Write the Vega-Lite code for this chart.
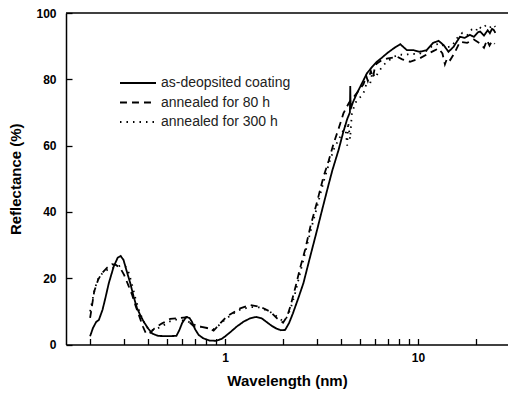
{
  "$schema": "https://vega.github.io/schema/vega-lite/v6.json",
  "width": 442,
  "height": 331.5,
  "autosize": "none",
  "padding": {"left": 66, "top": 13, "right": 0, "bottom": 51.5},
  "background": "white",
  "config": {
    "view": {"stroke": null},
    "font": "Liberation Sans",
    "axis": {
      "domainColor": "black",
      "domainWidth": 1.5,
      "ticks": true,
      "tickColor": "black",
      "tickWidth": 1.3,
      "grid": false,
      "labelFont": "Liberation Sans",
      "labelFontSize": 12,
      "labelFontWeight": "bold",
      "labelColor": "black",
      "titleFont": "Liberation Sans",
      "titleFontSize": 15,
      "titleFontWeight": "bold",
      "titleColor": "black",
      "labelOverlap": false,
      "labelFlush": false
    }
  },
  "datasets": {
    "curves": [
      {"w": 0.2, "r": 2.5, "s": "as-deopsited coating"},
      {"w": 0.207, "r": 5, "s": "as-deopsited coating"},
      {"w": 0.215, "r": 6.8, "s": "as-deopsited coating"},
      {"w": 0.222, "r": 7.4, "s": "as-deopsited coating"},
      {"w": 0.232, "r": 10.5, "s": "as-deopsited coating"},
      {"w": 0.24, "r": 14, "s": "as-deopsited coating"},
      {"w": 0.25, "r": 18.5, "s": "as-deopsited coating"},
      {"w": 0.265, "r": 23.5, "s": "as-deopsited coating"},
      {"w": 0.278, "r": 26.2, "s": "as-deopsited coating"},
      {"w": 0.288, "r": 26.7, "s": "as-deopsited coating"},
      {"w": 0.298, "r": 25.5, "s": "as-deopsited coating"},
      {"w": 0.31, "r": 22, "s": "as-deopsited coating"},
      {"w": 0.323, "r": 18.5, "s": "as-deopsited coating"},
      {"w": 0.336, "r": 14.5, "s": "as-deopsited coating"},
      {"w": 0.35, "r": 11, "s": "as-deopsited coating"},
      {"w": 0.365, "r": 8.7, "s": "as-deopsited coating"},
      {"w": 0.379, "r": 6.9, "s": "as-deopsited coating"},
      {"w": 0.4, "r": 4.8, "s": "as-deopsited coating"},
      {"w": 0.42, "r": 3.3, "s": "as-deopsited coating"},
      {"w": 0.45, "r": 2.6, "s": "as-deopsited coating"},
      {"w": 0.5, "r": 2.5, "s": "as-deopsited coating"},
      {"w": 0.56, "r": 2.6, "s": "as-deopsited coating"},
      {"w": 0.58, "r": 4.3, "s": "as-deopsited coating"},
      {"w": 0.6, "r": 6.5, "s": "as-deopsited coating"},
      {"w": 0.63, "r": 8.3, "s": "as-deopsited coating"},
      {"w": 0.655, "r": 8.0, "s": "as-deopsited coating"},
      {"w": 0.675, "r": 6.8, "s": "as-deopsited coating"},
      {"w": 0.7, "r": 4.6, "s": "as-deopsited coating"},
      {"w": 0.73, "r": 2.9, "s": "as-deopsited coating"},
      {"w": 0.77, "r": 1.9, "s": "as-deopsited coating"},
      {"w": 0.83, "r": 1.2, "s": "as-deopsited coating"},
      {"w": 0.9, "r": 1.1, "s": "as-deopsited coating"},
      {"w": 0.96, "r": 1.7, "s": "as-deopsited coating"},
      {"w": 1.0, "r": 2.4, "s": "as-deopsited coating"},
      {"w": 1.07, "r": 3.8, "s": "as-deopsited coating"},
      {"w": 1.15, "r": 5.4, "s": "as-deopsited coating"},
      {"w": 1.25, "r": 6.9, "s": "as-deopsited coating"},
      {"w": 1.35, "r": 7.9, "s": "as-deopsited coating"},
      {"w": 1.45, "r": 8.3, "s": "as-deopsited coating"},
      {"w": 1.55, "r": 7.9, "s": "as-deopsited coating"},
      {"w": 1.65, "r": 6.7, "s": "as-deopsited coating"},
      {"w": 1.75, "r": 5.6, "s": "as-deopsited coating"},
      {"w": 1.85, "r": 4.8, "s": "as-deopsited coating"},
      {"w": 1.95, "r": 4.3, "s": "as-deopsited coating"},
      {"w": 2.05, "r": 4.4, "s": "as-deopsited coating"},
      {"w": 2.15, "r": 6.5, "s": "as-deopsited coating"},
      {"w": 2.25, "r": 9.4, "s": "as-deopsited coating"},
      {"w": 2.4, "r": 14, "s": "as-deopsited coating"},
      {"w": 2.55, "r": 18.5, "s": "as-deopsited coating"},
      {"w": 2.75, "r": 26, "s": "as-deopsited coating"},
      {"w": 3.0, "r": 34.5, "s": "as-deopsited coating"},
      {"w": 3.2, "r": 41, "s": "as-deopsited coating"},
      {"w": 3.4, "r": 47, "s": "as-deopsited coating"},
      {"w": 3.6, "r": 52.5, "s": "as-deopsited coating"},
      {"w": 3.88, "r": 58.7, "s": "as-deopsited coating"},
      {"w": 4.1, "r": 64, "s": "as-deopsited coating"},
      {"w": 4.3, "r": 68, "s": "as-deopsited coating"},
      {"w": 4.44, "r": 70, "s": "as-deopsited coating"},
      {"w": 4.46, "r": 78, "s": "as-deopsited coating"},
      {"w": 4.48, "r": 71, "s": "as-deopsited coating"},
      {"w": 4.6, "r": 73, "s": "as-deopsited coating"},
      {"w": 4.83, "r": 75.8, "s": "as-deopsited coating"},
      {"w": 5.1, "r": 78.5, "s": "as-deopsited coating"},
      {"w": 5.44, "r": 81.8, "s": "as-deopsited coating"},
      {"w": 5.8, "r": 83.8, "s": "as-deopsited coating"},
      {"w": 6.13, "r": 85.3, "s": "as-deopsited coating"},
      {"w": 6.5, "r": 86.5, "s": "as-deopsited coating"},
      {"w": 6.9, "r": 87.8, "s": "as-deopsited coating"},
      {"w": 7.47, "r": 89.3, "s": "as-deopsited coating"},
      {"w": 8.1, "r": 90.6, "s": "as-deopsited coating"},
      {"w": 8.5, "r": 89.5, "s": "as-deopsited coating"},
      {"w": 8.77, "r": 88.8, "s": "as-deopsited coating"},
      {"w": 9.5, "r": 88.8, "s": "as-deopsited coating"},
      {"w": 10.2, "r": 88.3, "s": "as-deopsited coating"},
      {"w": 11.1, "r": 88.8, "s": "as-deopsited coating"},
      {"w": 12.0, "r": 91, "s": "as-deopsited coating"},
      {"w": 12.8, "r": 91.6, "s": "as-deopsited coating"},
      {"w": 13.6, "r": 90.3, "s": "as-deopsited coating"},
      {"w": 14.4, "r": 88.3, "s": "as-deopsited coating"},
      {"w": 15.3, "r": 89.8, "s": "as-deopsited coating"},
      {"w": 16.5, "r": 92.8, "s": "as-deopsited coating"},
      {"w": 17.5, "r": 92.5, "s": "as-deopsited coating"},
      {"w": 18.6, "r": 93.4, "s": "as-deopsited coating"},
      {"w": 19.5, "r": 92.8, "s": "as-deopsited coating"},
      {"w": 20.5, "r": 94.2, "s": "as-deopsited coating"},
      {"w": 21.0, "r": 94.4, "s": "as-deopsited coating"},
      {"w": 22.0, "r": 93.2, "s": "as-deopsited coating"},
      {"w": 23.0, "r": 94.8, "s": "as-deopsited coating"},
      {"w": 23.6, "r": 93.9, "s": "as-deopsited coating"},
      {"w": 24.2, "r": 95.2, "s": "as-deopsited coating"},
      {"w": 24.7, "r": 94.9, "s": "as-deopsited coating"},
      {"w": 25.2, "r": 94.0, "s": "as-deopsited coating"},

      {"w": 0.2, "r": 8, "s": "annealed for 80 h"},
      {"w": 0.205, "r": 12, "s": "annealed for 80 h"},
      {"w": 0.21, "r": 16, "s": "annealed for 80 h"},
      {"w": 0.22, "r": 19.5, "s": "annealed for 80 h"},
      {"w": 0.23, "r": 21.5, "s": "annealed for 80 h"},
      {"w": 0.245, "r": 23.2, "s": "annealed for 80 h"},
      {"w": 0.26, "r": 24.2, "s": "annealed for 80 h"},
      {"w": 0.272, "r": 24, "s": "annealed for 80 h"},
      {"w": 0.287, "r": 23, "s": "annealed for 80 h"},
      {"w": 0.3, "r": 21, "s": "annealed for 80 h"},
      {"w": 0.315, "r": 18, "s": "annealed for 80 h"},
      {"w": 0.33, "r": 15, "s": "annealed for 80 h"},
      {"w": 0.345, "r": 11.5, "s": "annealed for 80 h"},
      {"w": 0.36, "r": 8.5, "s": "annealed for 80 h"},
      {"w": 0.375, "r": 5.5, "s": "annealed for 80 h"},
      {"w": 0.39, "r": 3.3, "s": "annealed for 80 h"},
      {"w": 0.405, "r": 3.2, "s": "annealed for 80 h"},
      {"w": 0.43, "r": 4.8, "s": "annealed for 80 h"},
      {"w": 0.47, "r": 6.3, "s": "annealed for 80 h"},
      {"w": 0.52, "r": 7.7, "s": "annealed for 80 h"},
      {"w": 0.59, "r": 8, "s": "annealed for 80 h"},
      {"w": 0.636, "r": 8.2, "s": "annealed for 80 h"},
      {"w": 0.66, "r": 6.5, "s": "annealed for 80 h"},
      {"w": 0.69, "r": 5.5, "s": "annealed for 80 h"},
      {"w": 0.745, "r": 5.4, "s": "annealed for 80 h"},
      {"w": 0.82, "r": 4.9, "s": "annealed for 80 h"},
      {"w": 0.873, "r": 4.2, "s": "annealed for 80 h"},
      {"w": 0.9, "r": 5.0, "s": "annealed for 80 h"},
      {"w": 0.95, "r": 6.5, "s": "annealed for 80 h"},
      {"w": 1.02, "r": 8.4, "s": "annealed for 80 h"},
      {"w": 1.1, "r": 9.6, "s": "annealed for 80 h"},
      {"w": 1.2, "r": 10.9, "s": "annealed for 80 h"},
      {"w": 1.35, "r": 11.9, "s": "annealed for 80 h"},
      {"w": 1.52, "r": 11.4, "s": "annealed for 80 h"},
      {"w": 1.72, "r": 9.9, "s": "annealed for 80 h"},
      {"w": 1.86, "r": 7.9, "s": "annealed for 80 h"},
      {"w": 2.0, "r": 6.6, "s": "annealed for 80 h"},
      {"w": 2.1, "r": 8.5, "s": "annealed for 80 h"},
      {"w": 2.18, "r": 11.4, "s": "annealed for 80 h"},
      {"w": 2.3, "r": 16.5, "s": "annealed for 80 h"},
      {"w": 2.45, "r": 23, "s": "annealed for 80 h"},
      {"w": 2.6, "r": 28.5, "s": "annealed for 80 h"},
      {"w": 2.77, "r": 35.5, "s": "annealed for 80 h"},
      {"w": 3.0, "r": 43, "s": "annealed for 80 h"},
      {"w": 3.24, "r": 50.6, "s": "annealed for 80 h"},
      {"w": 3.45, "r": 55.5, "s": "annealed for 80 h"},
      {"w": 3.65, "r": 60.5, "s": "annealed for 80 h"},
      {"w": 3.9, "r": 65.5, "s": "annealed for 80 h"},
      {"w": 4.11, "r": 69.7, "s": "annealed for 80 h"},
      {"w": 4.4, "r": 73, "s": "annealed for 80 h"},
      {"w": 4.7, "r": 75, "s": "annealed for 80 h"},
      {"w": 5.0, "r": 77, "s": "annealed for 80 h"},
      {"w": 5.22, "r": 78.5, "s": "annealed for 80 h"},
      {"w": 5.4, "r": 81, "s": "annealed for 80 h"},
      {"w": 5.5, "r": 79.5, "s": "annealed for 80 h"},
      {"w": 5.7, "r": 82.5, "s": "annealed for 80 h"},
      {"w": 5.85, "r": 80.5, "s": "annealed for 80 h"},
      {"w": 6.0, "r": 84, "s": "annealed for 80 h"},
      {"w": 6.13, "r": 84.8, "s": "annealed for 80 h"},
      {"w": 6.5, "r": 85.8, "s": "annealed for 80 h"},
      {"w": 7.0, "r": 86.3, "s": "annealed for 80 h"},
      {"w": 7.8, "r": 86.8, "s": "annealed for 80 h"},
      {"w": 8.3, "r": 86, "s": "annealed for 80 h"},
      {"w": 9.1, "r": 85.3, "s": "annealed for 80 h"},
      {"w": 10.2, "r": 86.3, "s": "annealed for 80 h"},
      {"w": 11.1, "r": 87.5, "s": "annealed for 80 h"},
      {"w": 12.0, "r": 88.5, "s": "annealed for 80 h"},
      {"w": 12.8, "r": 89.3, "s": "annealed for 80 h"},
      {"w": 13.4, "r": 87.8, "s": "annealed for 80 h"},
      {"w": 13.8, "r": 84.5, "s": "annealed for 80 h"},
      {"w": 14.2, "r": 86.5, "s": "annealed for 80 h"},
      {"w": 14.7, "r": 85.8, "s": "annealed for 80 h"},
      {"w": 15.5, "r": 88, "s": "annealed for 80 h"},
      {"w": 16.5, "r": 91.3, "s": "annealed for 80 h"},
      {"w": 18.0, "r": 91, "s": "annealed for 80 h"},
      {"w": 19.5, "r": 92, "s": "annealed for 80 h"},
      {"w": 21.0, "r": 90.8, "s": "annealed for 80 h"},
      {"w": 22.0, "r": 89.5, "s": "annealed for 80 h"},
      {"w": 22.8, "r": 91.8, "s": "annealed for 80 h"},
      {"w": 23.5, "r": 90.2, "s": "annealed for 80 h"},
      {"w": 24.2, "r": 91.5, "s": "annealed for 80 h"},
      {"w": 25.0, "r": 90.7, "s": "annealed for 80 h"},

      {"w": 0.2, "r": 10, "s": "annealed for 300 h"},
      {"w": 0.205, "r": 13, "s": "annealed for 300 h"},
      {"w": 0.212, "r": 17, "s": "annealed for 300 h"},
      {"w": 0.22, "r": 19.8, "s": "annealed for 300 h"},
      {"w": 0.23, "r": 21.3, "s": "annealed for 300 h"},
      {"w": 0.245, "r": 22.5, "s": "annealed for 300 h"},
      {"w": 0.26, "r": 23, "s": "annealed for 300 h"},
      {"w": 0.275, "r": 23.5, "s": "annealed for 300 h"},
      {"w": 0.29, "r": 23.8, "s": "annealed for 300 h"},
      {"w": 0.305, "r": 23.5, "s": "annealed for 300 h"},
      {"w": 0.318, "r": 21.5, "s": "annealed for 300 h"},
      {"w": 0.33, "r": 18, "s": "annealed for 300 h"},
      {"w": 0.345, "r": 13.5, "s": "annealed for 300 h"},
      {"w": 0.36, "r": 10, "s": "annealed for 300 h"},
      {"w": 0.375, "r": 7.5, "s": "annealed for 300 h"},
      {"w": 0.39, "r": 5.5, "s": "annealed for 300 h"},
      {"w": 0.41, "r": 4.2, "s": "annealed for 300 h"},
      {"w": 0.44, "r": 4.6, "s": "annealed for 300 h"},
      {"w": 0.48, "r": 5.8, "s": "annealed for 300 h"},
      {"w": 0.52, "r": 7, "s": "annealed for 300 h"},
      {"w": 0.56, "r": 7.5, "s": "annealed for 300 h"},
      {"w": 0.6, "r": 7.3, "s": "annealed for 300 h"},
      {"w": 0.64, "r": 7.0, "s": "annealed for 300 h"},
      {"w": 0.68, "r": 6.2, "s": "annealed for 300 h"},
      {"w": 0.72, "r": 5.6, "s": "annealed for 300 h"},
      {"w": 0.8, "r": 5, "s": "annealed for 300 h"},
      {"w": 0.87, "r": 4.6, "s": "annealed for 300 h"},
      {"w": 0.93, "r": 5.8, "s": "annealed for 300 h"},
      {"w": 1.0, "r": 7.5, "s": "annealed for 300 h"},
      {"w": 1.1, "r": 9.3, "s": "annealed for 300 h"},
      {"w": 1.2, "r": 10.5, "s": "annealed for 300 h"},
      {"w": 1.35, "r": 11.3, "s": "annealed for 300 h"},
      {"w": 1.5, "r": 11.2, "s": "annealed for 300 h"},
      {"w": 1.7, "r": 10, "s": "annealed for 300 h"},
      {"w": 1.85, "r": 8.5, "s": "annealed for 300 h"},
      {"w": 1.98, "r": 7.2, "s": "annealed for 300 h"},
      {"w": 2.08, "r": 8, "s": "annealed for 300 h"},
      {"w": 2.18, "r": 10.5, "s": "annealed for 300 h"},
      {"w": 2.3, "r": 15, "s": "annealed for 300 h"},
      {"w": 2.45, "r": 21.5, "s": "annealed for 300 h"},
      {"w": 2.6, "r": 27.5, "s": "annealed for 300 h"},
      {"w": 2.8, "r": 35, "s": "annealed for 300 h"},
      {"w": 3.0, "r": 41.5, "s": "annealed for 300 h"},
      {"w": 3.24, "r": 49, "s": "annealed for 300 h"},
      {"w": 3.5, "r": 55.5, "s": "annealed for 300 h"},
      {"w": 3.7, "r": 59.5, "s": "annealed for 300 h"},
      {"w": 3.9, "r": 62, "s": "annealed for 300 h"},
      {"w": 4.1, "r": 64.5, "s": "annealed for 300 h"},
      {"w": 4.2, "r": 66, "s": "annealed for 300 h"},
      {"w": 4.3, "r": 60, "s": "annealed for 300 h"},
      {"w": 4.35, "r": 67, "s": "annealed for 300 h"},
      {"w": 4.45, "r": 62, "s": "annealed for 300 h"},
      {"w": 4.55, "r": 70, "s": "annealed for 300 h"},
      {"w": 4.8, "r": 73.5, "s": "annealed for 300 h"},
      {"w": 5.2, "r": 75.5, "s": "annealed for 300 h"},
      {"w": 5.4, "r": 78.5, "s": "annealed for 300 h"},
      {"w": 5.66, "r": 78.8, "s": "annealed for 300 h"},
      {"w": 5.8, "r": 82, "s": "annealed for 300 h"},
      {"w": 6.0, "r": 80.5, "s": "annealed for 300 h"},
      {"w": 6.3, "r": 82.5, "s": "annealed for 300 h"},
      {"w": 6.6, "r": 84.2, "s": "annealed for 300 h"},
      {"w": 7.0, "r": 85.5, "s": "annealed for 300 h"},
      {"w": 7.5, "r": 86.8, "s": "annealed for 300 h"},
      {"w": 8.0, "r": 87.5, "s": "annealed for 300 h"},
      {"w": 8.6, "r": 87.3, "s": "annealed for 300 h"},
      {"w": 9.2, "r": 87.8, "s": "annealed for 300 h"},
      {"w": 10.0, "r": 87.5, "s": "annealed for 300 h"},
      {"w": 11.0, "r": 88.5, "s": "annealed for 300 h"},
      {"w": 12.0, "r": 90.3, "s": "annealed for 300 h"},
      {"w": 13.0, "r": 90.8, "s": "annealed for 300 h"},
      {"w": 14.0, "r": 89.6, "s": "annealed for 300 h"},
      {"w": 15.0, "r": 90, "s": "annealed for 300 h"},
      {"w": 16.0, "r": 92.5, "s": "annealed for 300 h"},
      {"w": 17.0, "r": 94, "s": "annealed for 300 h"},
      {"w": 18.0, "r": 93.3, "s": "annealed for 300 h"},
      {"w": 19.0, "r": 95, "s": "annealed for 300 h"},
      {"w": 20.0, "r": 94.5, "s": "annealed for 300 h"},
      {"w": 20.5, "r": 96, "s": "annealed for 300 h"},
      {"w": 21.5, "r": 95.2, "s": "annealed for 300 h"},
      {"w": 22.5, "r": 96.3, "s": "annealed for 300 h"},
      {"w": 23.5, "r": 95.5, "s": "annealed for 300 h"},
      {"w": 24.5, "r": 96.5, "s": "annealed for 300 h"},
      {"w": 25.2, "r": 95.8, "s": "annealed for 300 h"}
    ],
    "top": [{"r": 100}]
  },
  "layer": [
    {
      "data": {"name": "curves"},
      "mark": {"type": "line", "strokeWidth": 1.8, "color": "black", "clip": true},
      "encoding": {
        "x": {
          "field": "w", "type": "quantitative",
          "scale": {"type": "log", "domain": [0.15, 29.3], "nice": false},
          "axis": {
            "title": "Wavelength (nm)",
            "values": [0.2, 0.3, 0.4, 0.5, 0.6, 0.7, 0.8, 0.9, 1, 2, 3, 4, 5, 6, 7, 8, 9, 10, 20],
            "labelExpr": "datum.value == 1 ? '1' : (datum.value == 10 ? '10' : '')",
            "tickSize": -6,
            "labelPadding": 14,
            "titlePadding": 10
          }
        },
        "y": {
          "field": "r", "type": "quantitative",
          "scale": {"domain": [0, 100], "nice": false, "zero": false},
          "axis": {
            "title": "Reflectance (%)",
            "values": [0, 10, 20, 30, 40, 50, 60, 70, 80, 90, 100],
            "labelExpr": "datum.value % 20 == 0 ? datum.label : ''",
            "tickSize": -6,
            "labelPadding": 16,
            "titlePadding": 12
          }
        },
        "strokeDash": {
          "field": "s", "type": "nominal",
          "scale": {
            "domain": ["as-deopsited coating", "annealed for 80 h", "annealed for 300 h"],
            "range": [[1, 0], [7, 5], [1.5, 5]]
          },
          "legend": {
            "orient": "none",
            "legendX": 53,
            "legendY": 62,
            "title": null,
            "symbolType": "stroke",
            "symbolSize": 1300,
            "symbolStrokeWidth": 1.8,
            "symbolStrokeColor": "black",
            "labelFont": "Liberation Sans",
            "labelFontSize": 14,
            "labelColor": "#222",
            "labelOffset": 4,
            "clipHeight": 16,
            "rowPadding": 3.5
          }
        }
      }
    },
    {
      "data": {"name": "top"},
      "mark": {"type": "rule", "strokeWidth": 1.5, "color": "black"},
      "encoding": {"y": {"field": "r", "type": "quantitative"}}
    }
  ]
}
